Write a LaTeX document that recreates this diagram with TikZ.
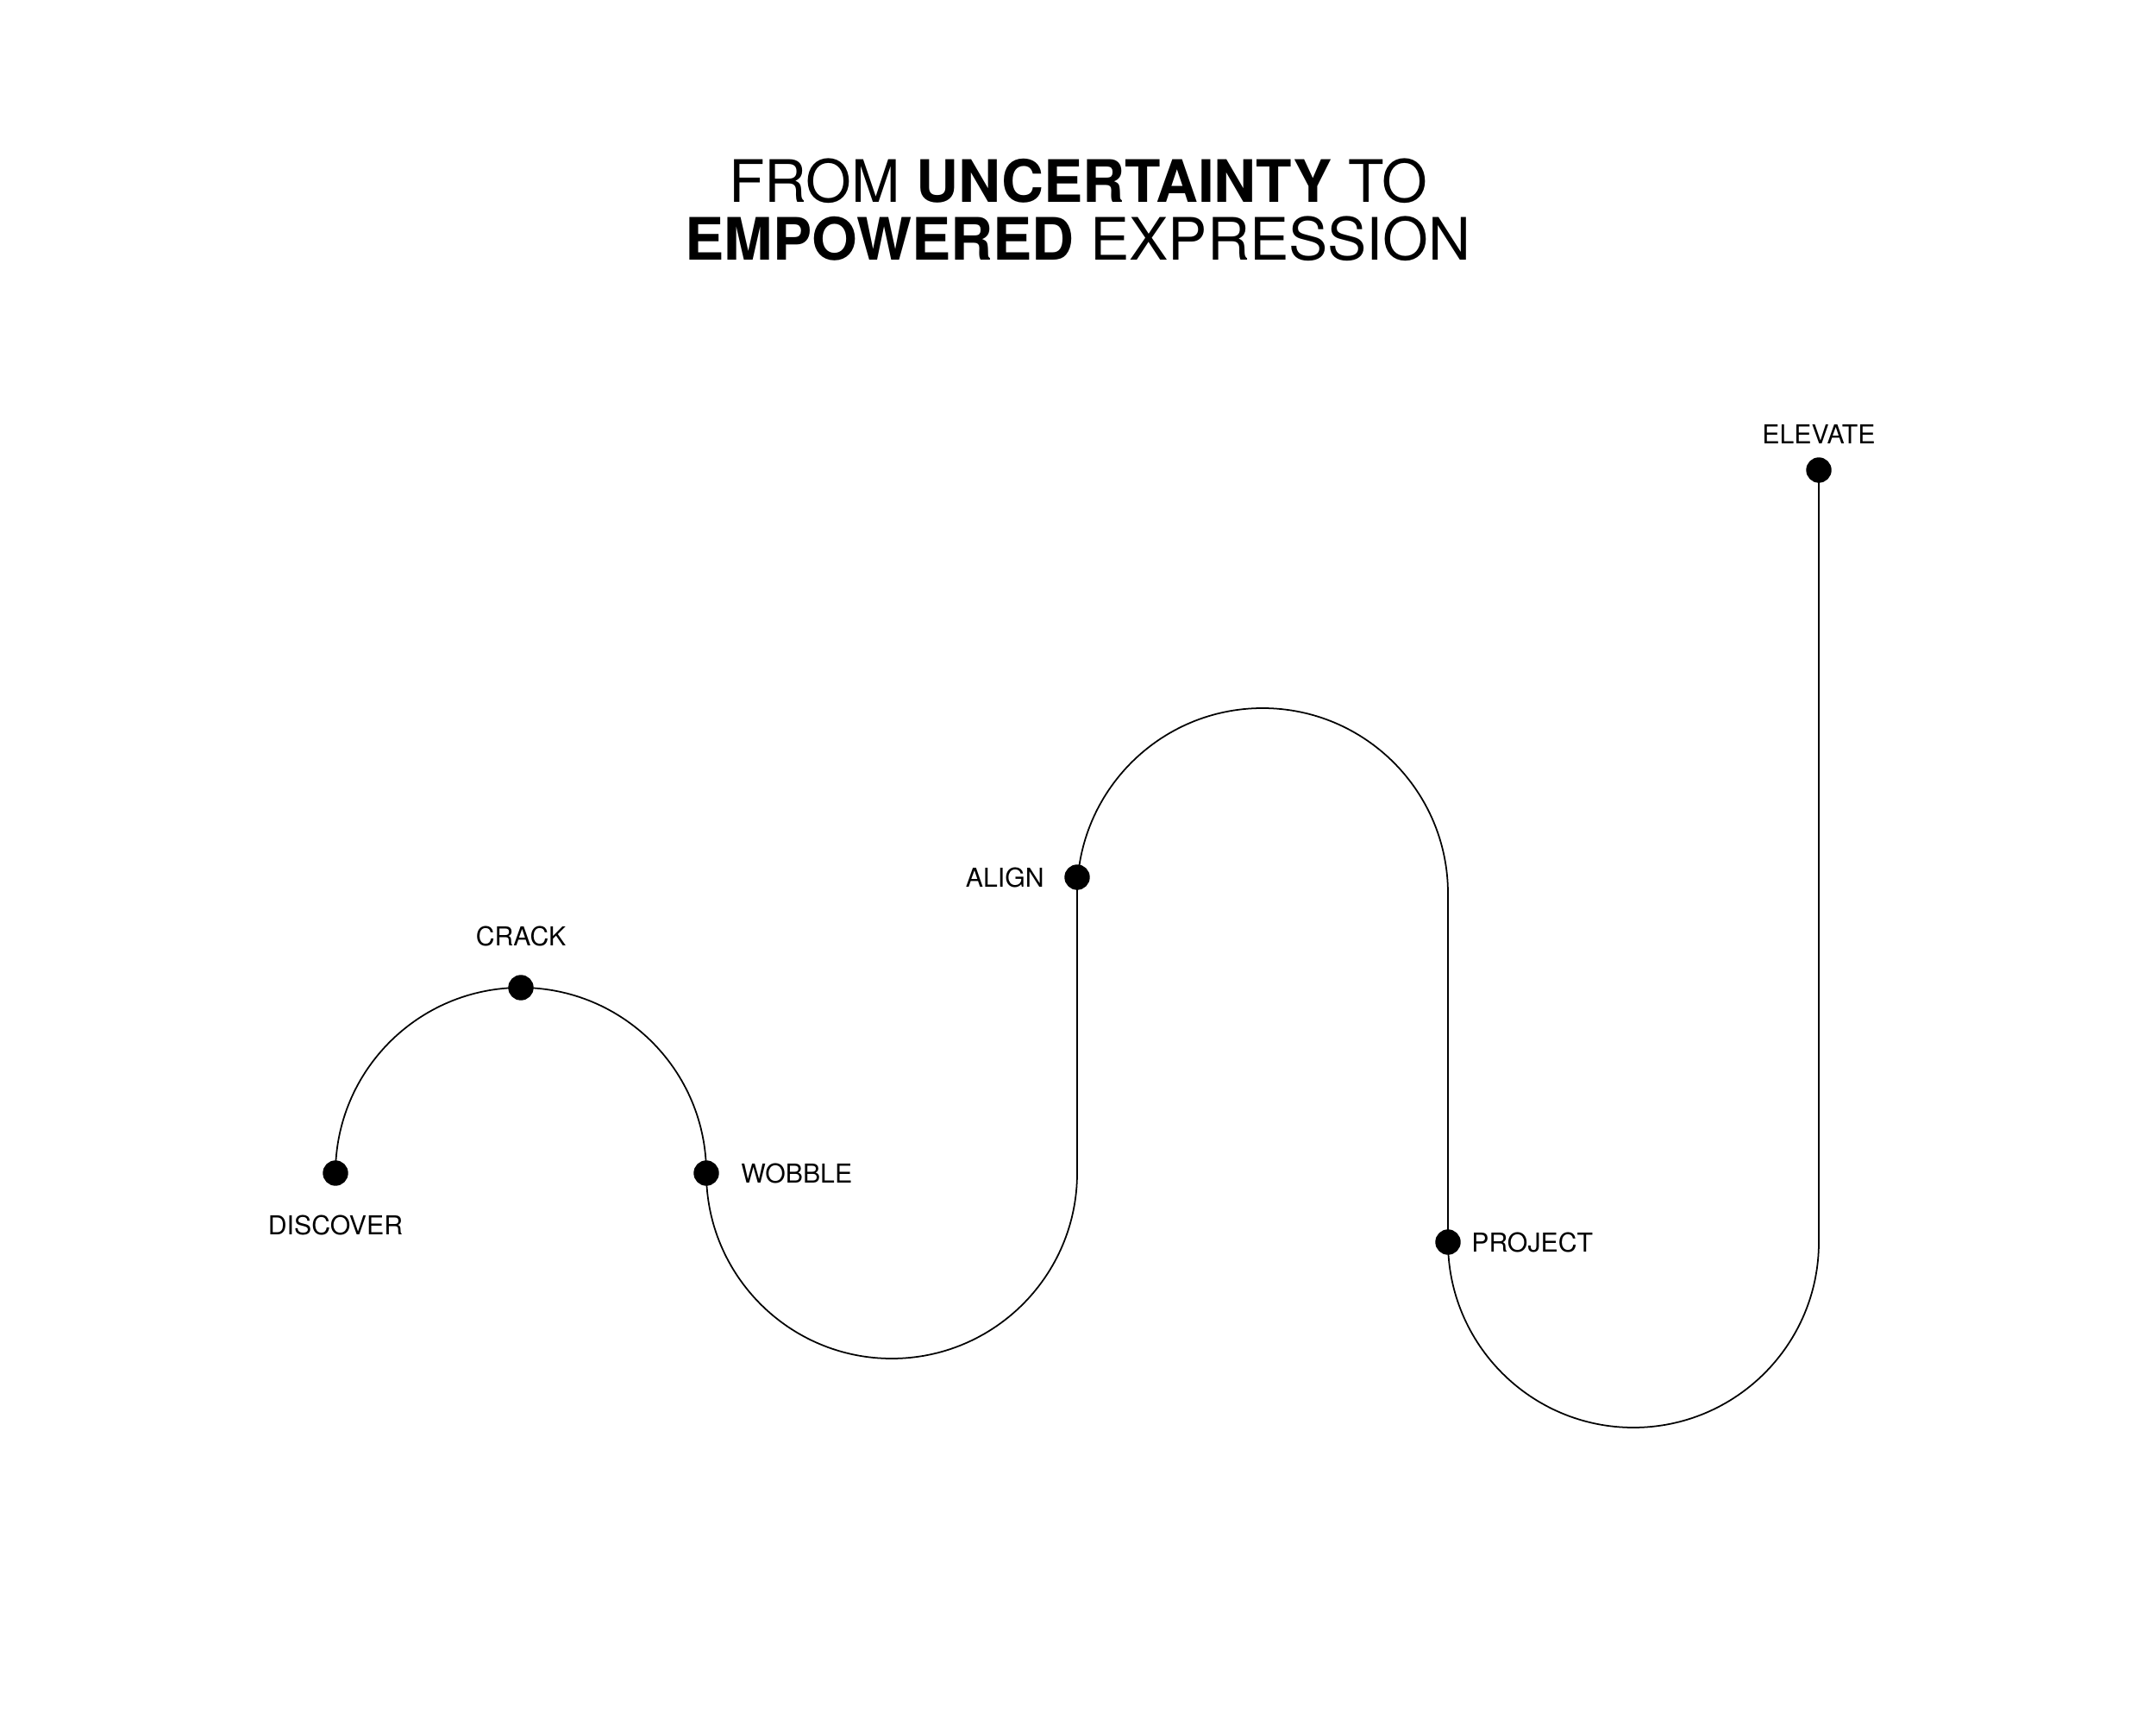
\documentclass[tikz,border=0pt]{standalone}
\usepackage{fontspec}
\setmainfont{TeX Gyre Heros}
\usetikzlibrary{positioning}

\begin{document}
\begin{tikzpicture}[scale=1,
    milestone/.style={draw, circle, fill, inner sep=0pt, minimum size=0.28cm},
    mlabel/.style={inner sep=0pt, font=\fontsize{8.6}{10}\selectfont},
    headline/.style={inner sep=0pt, anchor=base, font=\fontsize{19.3}{19.3}\selectfont},
    track/.style={line width=0.5pt}]
    \fill[white] (0,0) rectangle (25,20);
    \useasboundingbox (0,0) rectangle (25,20);

    % Titre
    \node[headline] (title1) at (12.50,17.65) {FROM \textbf{UNCERTAINTY} TO};
    \node[headline] (title2) at (12.50,16.98) {\textbf{EMPOWERED} EXPRESSION};

    % Jonction de l'arche
    \coordinate (alignjoin) at (12.49,9.64);

    % Chemin
    \draw[track] (3.89,6.40) arc[start angle=180, end angle=0, radius=2.15]
        arc[start angle=180, end angle=360, radius=2.15]
        -- (alignjoin) arc[start angle=180, end angle=0, radius=2.15]
        -- (16.79,5.60) arc[start angle=180, end angle=360, radius=2.15]
        -- (21.09,14.55);

    % Étapes
    \node[milestone] (discover) at (3.89,6.40) {};
    \node[milestone] (crack) at (6.04,8.55) {};
    \node[milestone] (wobble) at (8.19,6.40) {};
    \node[milestone] (align) at (12.49,9.83) {};
    \node[milestone] (project) at (16.79,5.60) {};
    \node[milestone] (elevate) at (21.09,14.55) {};

    % Étiquettes
    \node[mlabel, below=0.34cm of discover] (discover-txt) {DISCOVER};
    \node[mlabel, above=0.33cm of crack] (crack-txt) {CRACK};
    \node[mlabel, right=0.25cm of wobble] (wobble-txt) {WOBBLE};
    \node[mlabel, left=0.23cm of align] (align-txt) {ALIGN};
    \node[mlabel, right=0.12cm of project] (project-txt) {PROJECT};
    \node[mlabel, above=0.15cm of elevate] (elevate-txt) {ELEVATE};
\end{tikzpicture}
\end{document}
